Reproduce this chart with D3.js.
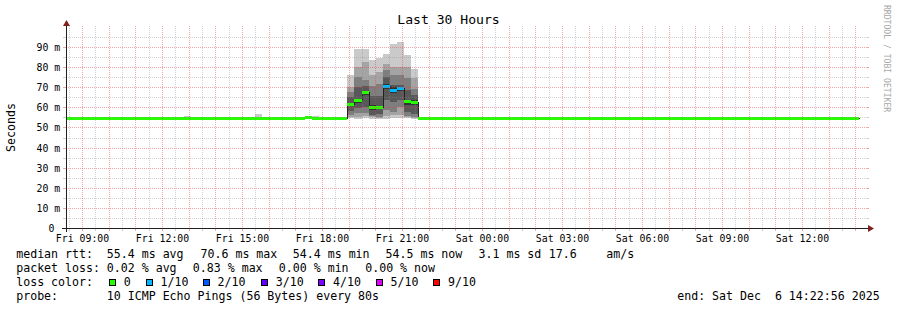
<!DOCTYPE html>
<html><head><meta charset="utf-8">
<script src="https://cdn.jsdelivr.net/npm/d3@7"></script>
<style>
html,body{margin:0;padding:0;background:#fff;}
svg{display:block;}
text{font-family:"DejaVu Sans Mono",monospace;fill:#000;}
</style></head><body>
<svg id="c" width="897" height="310"></svg>
<script>
// ---------------- data ----------------
const titleText = "Last 30 Hours";
const yAxisLabel = "Seconds";
const watermark = "RRDTOOL / TOBI OETIKER";
const graphStart = new Date(2025, 11, 5, 8, 22, 56);
const graphEnd = new Date(2025, 11, 6, 14, 22, 56);
const firstStep = new Date(2025, 11, 5, 8, 15, 52);
const stepSeconds = 960;

// median rtt per 960 s step (ms)
const medianMs = [
  54.6,54.6,54.6,54.6,54.6,54.6,54.6,54.6,54.6,54.6,
  54.6,54.6,54.6,54.6,54.6,54.6,54.6,54.6,54.6,54.6,
  54.6,54.6,54.6,54.6,54.6,54.6,54.6,54.6,54.6,54.6,
  54.6,54.6,54.6,54.6,55.0,54.6,54.6,54.6,54.6,54.6,
  61.8,63.6,67.4,60.3,60.3,70.6,68.8,69.4,63.0,62.8,
  54.6,54.6,54.6,54.6,54.6,54.6,54.6,54.6,54.6,54.6,
  54.6,54.6,54.6,54.6,54.6,54.6,54.6,54.6,54.6,54.6,
  54.6,54.6,54.6,54.6,54.6,54.6,54.6,54.6,54.6,54.6,
  54.6,54.6,54.6,54.6,54.6,54.6,54.6,54.6,54.6,54.6,
  54.6,54.6,54.6,54.6,54.6,54.6,54.6,54.6,54.6,54.6,
  54.6,54.6,54.6,54.6,54.6,54.6,54.6,54.6,54.6,54.6,
  54.6,54.5
];
// lost pings out of 10 per step
const lossTenths = [
  0,0,0,0,0,0,0,0,0,0, 0,0,0,0,0,0,0,0,0,0,
  0,0,0,0,0,0,0,0,0,0, 0,0,0,0,0,0,0,0,0,0,
  0,0,0,0,0,1,1,1,0,0, 0,0,0,0,0,0,0,0,0,0,
  0,0,0,0,0,0,0,0,0,0, 0,0,0,0,0,0,0,0,0,0,
  0,0,0,0,0,0,0,0,0,0, 0,0,0,0,0,0,0,0,0,0,
  0,0,0,0,0,0,0,0,0,0, 0,0
];
// steps whose smoke shows outside the median line, and their 10 sorted pings (ms)
const smokeSteps = [17, 27, 34, 35, 40, 41, 42, 43, 44, 45, 46, 47, 48, 49, 94, 96];
const smokePingsMs = [
  [54.3,54.4,54.5,54.5,54.6,54.6,54.7,54.8,55.0,55.8],
  [54.3,54.4,54.5,54.5,54.6,54.6,54.7,54.9,55.3,56.9],
  [54.4,54.6,54.8,54.9,55.0,55.0,55.1,55.2,55.4,55.8],
  [54.3,54.4,54.5,54.5,54.6,54.6,54.7,54.8,55.1,55.9],
  [54.7,55.5,56.5,58.5,61.0,62.6,65.4,68.0,70.4,76.2],
  [54.6,55.6,57.5,60.0,62.6,64.6,70.4,75.4,80.4,89.1],
  [54.8,55.8,57.5,60.4,66.5,68.3,71.0,73.7,82.8,89.1],
  [54.5,55.2,55.8,56.5,59.0,61.6,66.0,71.0,76.5,83.7],
  [54.3,54.8,55.5,57.0,59.5,61.1,66.0,72.0,78.0,85.0],
  [54.3,56.0,58.8,63.8,69.5,71.7,75.4,78.7,82.0,86.7],
  [55.0,56.5,58.0,63.0,67.5,70.2,71.2,76.2,80.3,91.5],
  [55.0,56.5,60.4,64.0,68.5,70.4,71.2,76.2,80.3,92.5],
  [54.7,55.3,56.0,58.0,61.5,64.0,68.8,74.6,80.3,86.5],
  [54.5,55.0,55.5,57.0,61.5,63.8,66.3,69.6,74.6,79.5],
  [54.3,54.4,54.5,54.5,54.6,54.6,54.7,54.8,55.0,55.6],
  [54.3,54.4,54.5,54.5,54.6,54.6,54.7,54.8,55.0,55.6]
];
const yLabelValues = [0,10,20,30,40,50,60,70,80,90];
const lossLegend = ["0","1/10","2/10","3/10","4/10","5/10","9/10"];
const lossColors = ["#26ff00","#00b8ff","#0059ff","#5e00ff","#7e00ff","#dd00ff","#ff0000"];
const rttStats = ["55.4 ms avg","70.6 ms max","54.4 ms min","54.5 ms now","3.1 ms sd","17.6","am/s"];
const lossStats = ["0.02 % avg","0.83 % max","0.00 % min","0.00 % now"];
const probeText = "10 ICMP Echo Pings (56 Bytes) every 80s";
const endText = "end: Sat Dec  6 14:22:56 2025";

// ---------------- layout ----------------
const svg = d3.select("#c");
const X0 = 66, X1 = 866, Y0 = 228.5, Y1 = 27.4;
const x = d3.scaleTime().domain([graphStart, graphEnd]).range([X0, X1]);
const y = d3.scaleLinear().domain([0, 100]).range([Y0, Y1]);
const snap = v => Math.floor(v) + 0.5;
const stepTime = i => new Date(firstStep.getTime() + i * stepSeconds * 1000);
const sx = i => Math.round(Math.max(X0, Math.min(X1, x(stepTime(i)))));
const lossColor = l => lossColors[l <= 5 ? l : 6];

svg.append("rect").attr("width",897).attr("height",310).attr("fill","#fff");

// smoke
const greys = ["#cacaca","#a4a4a4","#7e7e7e","#585858","#323232"];
const gSmoke = svg.append("g").attr("shape-rendering","crispEdges");
smokeSteps.forEach((si, k) => {
  const p = smokePingsMs[k];
  const xa = sx(si), xb = sx(si + 1);
  for (let b = 0; b < 5; b++) {
    const top = Math.round(y(p[9 - b])), bot = Math.round(y(p[b]));
    gSmoke.append("rect").attr("x", xa).attr("y", top)
      .attr("width", xb - xa).attr("height", Math.max(1, bot - top)).attr("fill", greys[b]);
  }
});

// median black step line (only its vertical risers stay visible)
const pts = medianMs.map((m, i) => [sx(i) + 0.5, snap(y(m))]);
pts.push([sx(medianMs.length) + 0.5, snap(y(medianMs[medianMs.length - 1]))]);
pts[0][0] = X0;
svg.append("path").attr("d", d3.line().curve(d3.curveStepAfter)(pts))
  .attr("fill","none").attr("stroke","#202020").attr("stroke-width",1)
  .attr("shape-rendering","crispEdges");

// coloured median band, on top of the black line
const gBand = svg.append("g").attr("shape-rendering","crispEdges");
medianMs.forEach((m, i) => {
  const xa = sx(i), xb = sx(i + 1);
  gBand.append("rect").attr("x", xa).attr("y", Math.round(y(m) - 1.5))
    .attr("width", xb - xa).attr("height", 3).attr("fill", lossColor(lossTenths[i]));
});

// grid (drawn on top like rrdtool)
const minorCol = "rgba(140,140,140,0.40)", majorCol = "rgba(232,60,60,0.45)";
const gGrid = svg.append("g").attr("shape-rendering","crispEdges");
const hMinor = d3.range(5, 100, 10), hMajor = d3.range(10, 100, 10);
function hline(v, col) {
  const yy = snap(y(v));
  gGrid.append("line").attr("x1", X0 - 3).attr("x2", X0).attr("y1", yy).attr("y2", yy).attr("stroke", col);
  gGrid.append("line").attr("x1", X1).attr("x2", X1 + 3).attr("y1", yy).attr("y2", yy).attr("stroke", col);
  gGrid.append("line").attr("x1", X0).attr("x2", X1).attr("y1", yy).attr("y2", yy)
    .attr("stroke", col).attr("stroke-dasharray", "1,1");
}
hMinor.forEach(v => hline(v, minorCol));
hMajor.forEach(v => hline(v, majorCol));
const halfHours = d3.timeMinute.every(30).range(graphStart, graphEnd);
function vline(tm, col) {
  const xx = snap(x(tm));
  gGrid.append("line").attr("x1", xx).attr("x2", xx).attr("y1", 25.5).attr("y2", 228)
    .attr("stroke", col).attr("stroke-dasharray", "1,1");
  gGrid.append("line").attr("x1", xx).attr("x2", xx).attr("y1", 229).attr("y2", 231).attr("stroke", col);
}
halfHours.filter(tm => tm.getMinutes() === 30).forEach(tm => vline(tm, minorCol));
halfHours.filter(tm => tm.getMinutes() === 0).forEach(tm => vline(tm, majorCol));

// axes
const axisCol = "#1f1f1f", arrowCol = "#801f1f";
svg.append("line").attr("x1", 62).attr("x2", 869).attr("y1", Y0).attr("y2", Y0)
  .attr("stroke", axisCol).attr("shape-rendering","crispEdges");
svg.append("line").attr("x1", X0 + 0.5).attr("x2", X0 + 0.5).attr("y1", 232).attr("y2", 25)
  .attr("stroke", axisCol).attr("shape-rendering","crispEdges");
svg.append("path").attr("d", "M868,225L874,228.5L868,232Z").attr("fill", arrowCol);
svg.append("path").attr("d", "M63,26L66.5,20L70,26Z").attr("fill", arrowCol);

// y labels
const axFont = 9.85;
yLabelValues.forEach(v => {
  svg.append("text").attr("x", v === 0 ? 60.3 - 5.93 : 60.3).attr("y", snap(y(v)) + 3.6)
    .attr("text-anchor","end").attr("font-size", axFont)
    .text(v === 0 ? "0" : v + " m");
});
// x labels every 3 hours
const fmt = d3.timeFormat("%a %H:%M");
d3.timeHour.every(3).range(graphStart, graphEnd).forEach(tm => {
  svg.append("text").attr("x", snap(x(tm))).attr("y", 241.5)
    .attr("text-anchor","middle").attr("font-size", axFont).text(fmt(tm));
});

// title, unit, watermark
svg.append("text").attr("x", 448.5).attr("y", 24).attr("text-anchor","middle")
  .attr("font-size", 13.1).text(titleText);
svg.append("text").attr("transform","translate(14.5,127.5) rotate(-90)")
  .attr("text-anchor","middle").attr("font-size", 11.6).text(yAxisLabel);
svg.append("text").attr("transform","translate(883.5,5) rotate(90)")
  .attr("font-size", 8.1).style("fill","#a8a8a8").text(watermark);

// legend
const lf = 11.6;
function legendText(xp, yp, s) {
  svg.append("text").attr("x", xp).attr("y", yp).attr("font-size", lf)
    .attr("xml:space","preserve").style("white-space","pre").text(s);
}
legendText(16.2, 258, "median rtt:");
[106.8, 200.5, 292.8, 385.5, 478.5, 548.8, 606.2].forEach((xp, i) => legendText(xp, 258, rttStats[i]));
legendText(16.2, 272, "packet loss:");
[106.8, 192.8, 278.8, 365.2].forEach((xp, i) => legendText(xp, 272, lossStats[i]));
legendText(16.2, 286, "loss color:");
const sqX = [109, 145.7, 202.7, 261, 318.3, 375.7, 433.3];
lossLegend.forEach((s, i) => {
  const bx = Math.round(sqX[i]);
  svg.append("rect").attr("x", bx + 0.5).attr("y", 279.5).attr("width", 6).attr("height", 6)
    .attr("fill", lossColors[i]).attr("stroke", "#000").attr("stroke-width", 1)
    .attr("shape-rendering","crispEdges");
  legendText(sqX[i] + 14.8, 286, s);
});
legendText(16.2, 300, "probe:");
legendText(106.8, 300, probeText);
legendText(677.2, 300, endText);
</script>
</body></html>
